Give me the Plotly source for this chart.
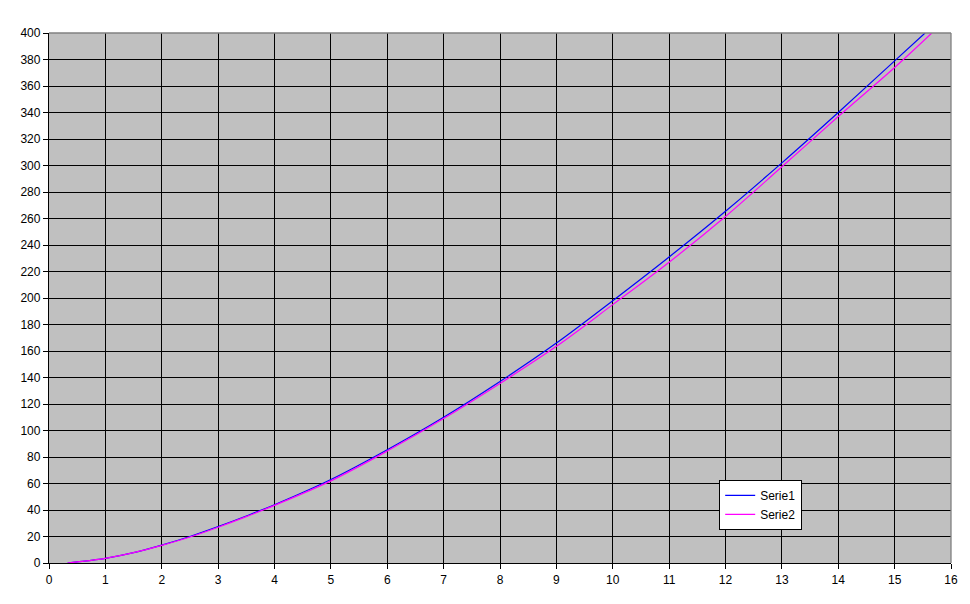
import plotly.graph_objects as go

# Data
serie1_x = [0.33, 0.5, 1, 1.5, 2, 2.5, 3, 3.5, 4, 5, 6, 7, 8, 9, 10, 11, 12, 13, 14, 15, 15.54]
serie1_y = [0, 0.8, 3.5, 7.8, 13.5, 20, 27.5, 35.5, 44, 63, 85.5, 110, 137, 166, 198, 231, 265.5, 302, 340, 379, 400]
serie2_x = [0.33, 0.5, 1, 1.5, 2, 2.5, 3, 3.5, 4, 5, 6, 7, 8, 9, 10, 11, 12, 13, 14, 15, 15.66]
serie2_y = [0, 0.8, 3.5, 7.8, 13.3, 19.6, 27, 35, 43.5, 62, 84.5, 109, 135.5, 163.5, 195, 227, 261.5, 299, 337, 374, 400]
series_names = ["Serie1", "Serie2"]

fig = go.Figure()
fig.add_trace(go.Scatter(x=serie1_x, y=serie1_y, mode="lines", name=series_names[0],
                         line=dict(color="#0000FF", width=1.2), line_shape="spline"))
fig.add_trace(go.Scatter(x=serie2_x, y=serie2_y, mode="lines", name=series_names[1],
                         line=dict(color="#FF00FF", width=1.2), line_shape="spline"))

# page body has an 8px margin, so the figure is offset by 8px
fig.update_layout(
    width=962, height=596,
    margin=dict(l=40, r=14, t=25, b=41),
    paper_bgcolor="white",
    plot_bgcolor="#C0C0C0",
    font=dict(family="Liberation Sans, Arial, sans-serif", size=12, color="black"),
    showlegend=True,
    legend=dict(x=0.743, y=0.157, xanchor="left", yanchor="top",
                bgcolor="white", bordercolor="black", borderwidth=1,
                font=dict(size=12), tracegroupgap=0),
)
fig.update_xaxes(range=[0, 16], dtick=1, tick0=0, showgrid=True, gridcolor="black", gridwidth=1.3,
                 showline=True, linecolor="black", linewidth=1.3, ticks="outside", ticklen=5,
                 tickcolor="black", zeroline=False, fixedrange=True)
fig.update_yaxes(range=[0, 400], dtick=20, tick0=0, showgrid=True, gridcolor="black", gridwidth=1.3,
                 showline=True, linecolor="black", linewidth=1.3, ticks="outside", ticklen=5,
                 tickcolor="black", zeroline=False, fixedrange=True)
# gray top and right border of plot area
fig.add_shape(type="line", xref="paper", yref="paper", x0=0, x1=1, y0=1, y1=1,
              line=dict(color="#808080", width=1.3))
fig.add_shape(type="line", xref="paper", yref="paper", x0=1, x1=1, y0=0, y1=1,
              line=dict(color="#808080", width=1.3))

fig.write_html("out.html")
